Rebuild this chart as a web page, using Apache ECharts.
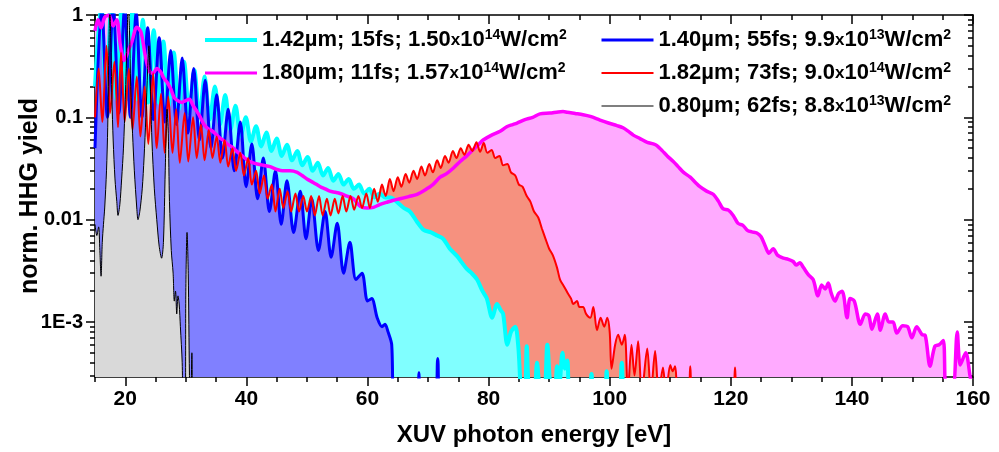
<!DOCTYPE html>
<html>
<head>
<meta charset="utf-8">
<script src="https://cdn.jsdelivr.net/npm/echarts@6/dist/echarts.min.js"></script>
<style>
  html, body { margin: 0; padding: 0; background: #fff; }
  #chart { width: 999px; height: 452px; }
</style>
</head>
<body>
<div id="chart"></div>
<script>
// tick values
const xMajor = [20, 40, 60, 80, 100, 120, 140, 160];
const xMinor = [15, 25, 30, 35, 45, 50, 55, 65, 70, 75, 85, 90, 95, 105, 110, 115, 125, 130, 135, 145, 150, 155];
const yMajor = [0.001, 0.01, 0.1, 1];
const yMajorText = ["1E-3", "0.01", "0.1", "1"];
const yMinor = [
  0.0003, 0.0004, 0.0005, 0.0006, 0.0007, 0.0008, 0.0009,
  0.002, 0.003, 0.004, 0.005, 0.006, 0.007, 0.008, 0.009,
  0.02, 0.03, 0.04, 0.05, 0.06, 0.07, 0.08, 0.09,
  0.2, 0.3, 0.4, 0.5, 0.6, 0.7, 0.8, 0.9
];

const names = {
  cyan: "1.42µm; 15fs; 1.50x10^14W/cm^2",
  magenta: "1.80µm; 11fs; 1.57x10^14W/cm^2",
  blue: "1.40µm; 55fs; 9.9x10^13W/cm^2",
  red: "1.82µm; 73fs; 9.0x10^14W/cm^2",
  black: "0.80µm; 62fs; 8.8x10^13W/cm^2"
};

// [photon energy eV, normalized yield]
const cyanData = [
  [15.0, 0.2], [16.0, 1.3], [16.85, 0.15], [17.7, 1.3], [18.55, 0.15], [19.4, 1.2], [20.3, 0.15], [21.2, 1.1],
  [22.05, 0.15], [22.9, 0.9], [23.8, 0.14], [24.7, 0.71], [25.5, 0.14], [26.3, 0.55], [27.15, 0.13], [28.0, 0.43],
  [28.85, 0.12], [29.7, 0.35], [30.55, 0.11], [31.4, 0.29], [32.25, 0.1], [33.1, 0.25], [33.95, 0.095], [34.8, 0.2],
  [35.65, 0.085], [36.5, 0.165], [37.35, 0.075], [38.2, 0.13], [39.05, 0.065], [39.9, 0.1], [40.75, 0.058], [41.6, 0.082],
  [42.45, 0.052], [43.3, 0.071], [44.15, 0.047], [45.0, 0.062], [45.85, 0.042], [46.7, 0.054], [47.55, 0.038], [48.4, 0.047],
  [49.25, 0.034], [50.1, 0.041], [50.95, 0.03], [51.8, 0.036], [52.65, 0.027], [53.5, 0.032], [54.35, 0.024], [55.2, 0.028],
  [56.05, 0.022], [56.9, 0.025], [57.75, 0.02], [58.6, 0.022], [59.45, 0.018], [60.3, 0.02], [61.15, 0.0165], [62.0, 0.018],
  [62.9, 0.0165], [63.8, 0.0165], [64.9, 0.0148], [66.0, 0.013], [67.0, 0.012], [68.2, 0.0095], [69.2, 0.008], [70.5, 0.0075],
  [71.5, 0.007], [72.5, 0.0065], [73.6, 0.0052], [74.8, 0.0044], [75.6, 0.0038], [76.4, 0.0033], [77.2, 0.003], [78.1, 0.0026],
  [79.0, 0.002], [79.7, 0.0017], [80.6, 0.0011], [81.4, 0.0015], [82.0, 0.0013], [82.4, 0.0012], [83.1, 0.0006], [83.7, 0.0008],
  [84.4, 0.0009], [84.9, 0.00058], [85.5, 0.0002], [86.0, 0.0002], [86.3, 0.00058], [86.8, 0.0002], [87.5, 0.0002], [88.0, 0.0004],
  [88.6, 0.0002], [89.2, 0.0002], [89.7, 0.0006], [90.4, 0.0002], [90.9, 0.0002], [91.3, 0.00037], [91.7, 0.00025], [92.2, 0.0005],
  [92.6, 0.00035], [93.0, 0.00042], [93.5, 0.0002], [96.6, 0.0002], [97.0, 0.00031], [97.4, 0.0002], [99.1, 0.0002], [99.5, 0.00033],
  [99.9, 0.0002], [101.5, 0.0002], [102.0, 0.0004], [102.5, 0.0002], [160, 0.0002]
];

const blueData = [
  [15.0, 0.05], [16.1, 1.3], [17.05, 0.1], [18.0, 1.3], [18.95, 0.11], [19.9, 1.2], [20.85, 0.1], [21.8, 1.05],
  [22.75, 0.1], [23.7, 0.75], [24.65, 0.095], [25.6, 0.6], [26.55, 0.09], [27.5, 0.45], [28.45, 0.085], [29.4, 0.38],
  [30.35, 0.07], [31.3, 0.3], [32.25, 0.06], [33.2, 0.23], [34.15, 0.05], [35.1, 0.166], [36.05, 0.04], [37.0, 0.12],
  [38.0, 0.03], [39.0, 0.09], [39.95, 0.021], [40.9, 0.055], [41.85, 0.016], [42.8, 0.04], [43.8, 0.012], [44.8, 0.03],
  [45.75, 0.009], [46.7, 0.024], [47.8, 0.0075], [48.9, 0.019], [49.85, 0.0065], [50.8, 0.016], [51.9, 0.005], [53.0, 0.012],
  [54.0, 0.0043], [55.0, 0.0092], [56.05, 0.003], [57.1, 0.006], [58.1, 0.0026], [59.1, 0.003], [60.0, 0.0016], [60.7, 0.0017],
  [61.6, 0.0011], [62.4, 0.0009], [62.9, 0.00095], [63.4, 0.0008], [64.0, 0.0006], [64.5, 0.0001], [68.2, 0.0001], [68.5, 0.00032],
  [68.8, 0.0001], [71.0, 0.0001], [71.6, 0.00044], [72.2, 0.0001], [160, 0.0001]
];

const magentaData = [
  [15.0, 0.7], [15.5, 0.9], [16.0, 0.75], [16.6, 0.95], [17.3, 1.0], [18.0, 0.78], [18.6, 0.9], [19.2, 0.5],
  [19.8, 0.36], [20.5, 0.45], [21.1, 0.55], [21.9, 0.76], [22.6, 0.68], [23.3, 0.4], [24.0, 0.28], [24.6, 0.27],
  [25.2, 0.3], [25.8, 0.28], [26.4, 0.24], [26.9, 0.22], [27.5, 0.19], [28.1, 0.155], [28.7, 0.145], [29.3, 0.14],
  [29.9, 0.145], [30.6, 0.15], [31.2, 0.13], [31.8, 0.115], [32.4, 0.1], [33.0, 0.085], [33.6, 0.078], [34.3, 0.074],
  [35.0, 0.068], [35.6, 0.063], [36.3, 0.059], [37.0, 0.054], [37.7, 0.051], [38.5, 0.046], [39.3, 0.042], [40.2, 0.038],
  [41.0, 0.036], [41.8, 0.035], [42.8, 0.034], [43.9, 0.033], [45.0, 0.031], [46.0, 0.03], [47.2, 0.03], [48.4, 0.029],
  [49.2, 0.027], [50.0, 0.025], [51.1, 0.023], [52.2, 0.021], [53.0, 0.02], [53.8, 0.019], [54.7, 0.0185], [55.5, 0.018],
  [56.6, 0.017], [57.7, 0.016], [58.8, 0.0135], [59.9, 0.013], [61.0, 0.0132], [62.0, 0.014], [63.2, 0.0148], [64.3, 0.0155],
  [65.4, 0.016], [66.8, 0.0168], [68.2, 0.0177], [69.5, 0.0195], [70.8, 0.022], [72.0, 0.026], [73.0, 0.028], [74.2, 0.032],
  [75.3, 0.037], [76.4, 0.042], [77.4, 0.048], [78.3, 0.054], [79.1, 0.06], [80.5, 0.067], [81.9, 0.073], [83.0, 0.081],
  [84.0, 0.085], [84.7, 0.088], [86.0, 0.095], [87.3, 0.1], [88.5, 0.108], [90.1, 0.11], [91.5, 0.113], [92.3, 0.114],
  [93.0, 0.112], [94.3, 0.109], [95.6, 0.106], [96.8, 0.102], [98.4, 0.094], [99.8, 0.088], [101.2, 0.083], [102.2, 0.079],
  [103.2, 0.072], [103.9, 0.067], [105.0, 0.062], [106.2, 0.057], [107.2, 0.055], [107.8, 0.053], [108.7, 0.047], [109.5, 0.042],
  [110.5, 0.037], [111.3, 0.033], [112.2, 0.029], [113.3, 0.026], [114.2, 0.023], [114.9, 0.021], [116.0, 0.019], [117.1, 0.0177],
  [118.0, 0.015], [118.7, 0.0128], [119.6, 0.0124], [120.4, 0.011], [121.2, 0.0092], [122.0, 0.0088], [122.8, 0.0078], [123.5, 0.0076],
  [124.3, 0.0074], [125.0, 0.0068], [125.7, 0.0055], [126.3, 0.0047], [127.0, 0.0052], [127.7, 0.0045], [128.7, 0.0042], [129.5, 0.0041],
  [130.3, 0.0039], [130.8, 0.0036], [131.4, 0.0038], [132.0, 0.0034], [132.8, 0.0029], [133.6, 0.0026], [134.4, 0.0018], [135.0, 0.0023],
  [135.6, 0.0021], [136.1, 0.0024], [136.6, 0.0019], [137.2, 0.0016], [137.8, 0.0019], [138.4, 0.002], [139.2, 0.0011], [139.7, 0.0017],
  [140.4, 0.0016], [141.4, 0.00095], [142.2, 0.0012], [142.8, 0.00115], [143.3, 0.00085], [144.2, 0.0012], [144.7, 0.00083], [145.5, 0.0012],
  [146.1, 0.001], [146.8, 0.001], [147.4, 0.00078], [148.4, 0.00092], [149.2, 0.0009], [149.9, 0.0007], [150.7, 0.0009], [151.6, 0.00075],
  [152.1, 0.00074], [152.9, 0.00037], [153.7, 0.00058], [154.4, 0.0006], [155.1, 0.00066], [155.6, 0.0002], [156.6, 0.0002], [157.4, 0.0008],
  [157.9, 0.00038], [158.8, 0.0005], [159.5, 0.0003], [160.0, 0.0002]
];

const redData = [
  [15.0, 0.1], [15.6, 0.3], [16.2, 0.09], [16.9, 0.5], [17.5, 0.11], [18.2, 0.35], [18.8, 0.08], [19.3, 0.43],
  [19.9, 0.09], [20.6, 0.3], [21.2, 0.075], [21.9, 0.25], [22.5, 0.065], [23.2, 0.2], [23.8, 0.055], [24.6, 0.27],
  [25.2, 0.05], [25.9, 0.17], [26.5, 0.045], [27.1, 0.16], [27.8, 0.045], [28.4, 0.12], [29.0, 0.036], [29.8, 0.11],
  [30.4, 0.037], [31.2, 0.1], [31.8, 0.04], [32.5, 0.085], [33.1, 0.038], [33.8, 0.075], [34.4, 0.04], [35.1, 0.065],
  [35.7, 0.036], [36.4, 0.06], [37.0, 0.033], [37.7, 0.05], [38.3, 0.03], [39.0, 0.045], [39.6, 0.027], [40.3, 0.04],
  [40.9, 0.022], [41.6, 0.03], [42.2, 0.018], [42.9, 0.027], [43.5, 0.016], [44.2, 0.022], [44.8, 0.012], [45.5, 0.02],
  [46.1, 0.013], [46.8, 0.019], [47.4, 0.012], [48.1, 0.018], [48.7, 0.012], [49.4, 0.017], [50.0, 0.012], [50.7, 0.017],
  [51.3, 0.011], [52.0, 0.017], [52.6, 0.011], [53.3, 0.016], [53.9, 0.011], [54.6, 0.016], [55.2, 0.0115], [55.9, 0.017],
  [56.5, 0.012], [57.2, 0.017], [57.8, 0.0125], [58.5, 0.017], [59.1, 0.013], [59.8, 0.018], [60.4, 0.013], [61.1, 0.02],
  [61.7, 0.015], [62.4, 0.022], [63.0, 0.017], [63.7, 0.025], [64.3, 0.019], [65.0, 0.026], [65.6, 0.021], [66.3, 0.028],
  [66.9, 0.023], [67.6, 0.03], [68.2, 0.025], [68.9, 0.033], [69.5, 0.027], [70.2, 0.035], [70.8, 0.029], [71.5, 0.038],
  [72.1, 0.032], [72.8, 0.042], [73.4, 0.036], [74.1, 0.047], [74.7, 0.04], [75.4, 0.05], [76.0, 0.043], [76.7, 0.054],
  [77.3, 0.047], [78.0, 0.057], [78.6, 0.046], [79.2, 0.056], [79.8, 0.045], [80.5, 0.048], [81.1, 0.04], [81.8, 0.042],
  [82.4, 0.034], [83.1, 0.035], [83.7, 0.029], [84.4, 0.027], [85.0, 0.022], [85.6, 0.021], [86.3, 0.017], [86.9, 0.015],
  [87.5, 0.012], [88.2, 0.0105], [88.8, 0.0082], [89.4, 0.0065], [90.0, 0.0052], [90.6, 0.0045], [91.3, 0.0034], [91.8, 0.0026],
  [92.5, 0.0022], [93.1, 0.0019], [93.6, 0.0017], [94.0, 0.0015], [94.6, 0.0016], [95.0, 0.0014], [95.6, 0.0014], [96.1, 0.0012],
  [96.8, 0.0011], [97.3, 0.0014], [97.9, 0.00083], [98.5, 0.0011], [99.1, 0.0009], [99.6, 0.0011], [100.0, 0.0008], [100.3, 0.00035],
  [100.9, 0.0006], [101.4, 0.00075], [102.0, 0.0006], [102.5, 0.00075], [103.0, 0.0002], [103.6, 0.0006], [104.1, 0.0003], [104.7, 0.00065],
  [105.3, 0.0002], [106.2, 0.00055], [106.8, 0.0002], [107.5, 0.00052], [108.1, 0.0002], [108.8, 0.00036], [109.3, 0.0002], [110.0, 0.00038],
  [110.4, 0.00033], [110.8, 0.00037], [111.4, 0.0002], [113.0, 0.0002], [113.3, 0.00037], [113.8, 0.0002], [120.3, 0.0002], [120.7, 0.00036],
  [121.1, 0.0002], [160, 0.0002]
];

const blackData = [
  [15.0, 0.009], [15.3, 0.007], [15.6, 0.0085], [15.8, 0.005], [16.0, 0.0028], [16.2, 0.006], [16.4, 0.009], [16.6, 0.013],
  [16.9, 0.03], [17.1, 0.08], [17.3, 0.5], [17.45, 1.2], [17.6, 0.6], [17.8, 0.15], [18.0, 0.06], [18.3, 0.025],
  [18.6, 0.015], [18.8, 0.011], [19.1, 0.014], [19.4, 0.025], [19.7, 0.05], [20.0, 0.15], [20.3, 0.6], [20.5, 1.3],
  [20.7, 0.7], [20.9, 0.2], [21.2, 0.07], [21.5, 0.03], [21.9, 0.013], [22.1, 0.01], [22.4, 0.012], [22.8, 0.02],
  [23.1, 0.04], [23.4, 0.1], [23.7, 0.3], [23.9, 0.5], [24.1, 0.25], [24.4, 0.06], [24.8, 0.02], [25.2, 0.01],
  [25.6, 0.0055], [26.0, 0.0042], [26.3, 0.006], [26.6, 0.03], [26.9, 0.12], [27.1, 0.07], [27.3, 0.015], [27.6, 0.005],
  [27.9, 0.003], [28.1, 0.0016], [28.3, 0.002], [28.5, 0.0012], [28.7, 0.0018], [28.9, 0.0015], [29.1, 0.0009], [29.4, 0.0004],
  [29.6, 0.0001], [29.9, 0.0001], [30.0, 0.002], [30.2, 0.0075], [30.4, 0.003], [30.6, 0.0003], [30.8, 0.0001], [31.0, 0.0005],
  [31.2, 0.0001], [31.5, 0.0001]
];

const FONT = "'Liberation Sans', Arial, sans-serif";
const yMin = 0.00029;

const legendText = {
  fontFamily: FONT,
  fontWeight: "bold",
  fontSize: 22,
  color: "#000",
  rich: {
    a: { fontFamily: FONT, fontWeight: "bold", fontSize: 22, lineHeight: 24, color: "#000" },
    x: { fontFamily: FONT, fontWeight: "bold", fontSize: 17, lineHeight: 24, color: "#000" },
    s: { fontFamily: FONT, fontWeight: "bold", fontSize: 14, lineHeight: 12, verticalAlign: "top", color: "#000" }
  }
};

const legendFormatter = (name) => {
  const m = name.match(/^(.*)x10\^(\d+)W\/cm\^2$/);
  return `{a|${m[1]}}{x|x}{a|10}{s|${m[2]}}{a|W/cm}{s|2}`;
};

const legendItem = (name, color, width) => ({
  name,
  lineStyle: { width, color },
  itemStyle: { opacity: 0, color: "rgba(0,0,0,0)", borderWidth: 0 }
});

const fillSeries = (data, color) => ({
  type: "line",
  data,
  symbol: "none",
  smooth: 0.3,
  silent: true,
  lineStyle: { width: 0 },
  areaStyle: { color, opacity: 1, origin: "start" }
});

const lineSeries = (name, data, color, width, smooth) => ({
  type: "line",
  name,
  data,
  symbol: "none",
  showSymbol: false,
  smooth,
  silent: true,
  itemStyle: { color },
  lineStyle: { color, width }
});

const tickAxis = (type, position, values, length, inside, showLine) => ({
  type,
  position,
  min: type === "log" ? yMin : 15,
  max: type === "log" ? 1 : 160,
  logBase: 10,
  axisLine: { show: showLine, onZero: false, lineStyle: { color: "#000", width: 1.5 } },
  axisTick: { show: true, inside, length, customValues: values, lineStyle: { color: "#000", width: 1.5 } },
  axisLabel: { show: false },
  splitLine: { show: false },
  minorTick: { show: false }
});

const legendBase = {
  orient: "vertical",
  top: 28,
  padding: 0,
  itemWidth: 52,
  itemHeight: 14,
  itemGap: 10,
  selectedMode: false,
  textStyle: legendText,
  formatter: legendFormatter
};

const chart = echarts.init(document.getElementById("chart"));
chart.setOption({
  animation: false,
  backgroundColor: "#fff",
  grid: { left: 95, right: 26, top: 15, bottom: 74 },
  legend: [
    Object.assign({}, legendBase, {
      left: 203,
      data: [
        legendItem(names.cyan, "#00ffff", 4),
        legendItem(names.magenta, "#ff00ff", 3)
      ]
    }),
    Object.assign({}, legendBase, {
      left: 600,
      data: [
        legendItem(names.blue, "#0000ff", 3),
        legendItem(names.red, "#ff0000", 2),
        legendItem(names.black, "#555555", 1.5)
      ]
    })
  ],
  xAxis: [
    {
      type: "value",
      position: "bottom",
      min: 15,
      max: 160,
      name: "XUV photon energy [eV]",
      nameLocation: "middle",
      nameGap: 46,
      nameMoveOverlap: false,
      nameTextStyle: { fontFamily: FONT, fontWeight: "bold", fontSize: 24, color: "#000" },
      axisLine: { show: true, onZero: false, lineStyle: { color: "#000", width: 1.5 } },
      axisTick: { show: true, length: 9, customValues: xMajor, lineStyle: { color: "#000", width: 1.5 } },
      axisLabel: {
        customValues: xMajor,
        margin: 12,
        fontFamily: FONT,
        fontWeight: "bold",
        fontSize: 21,
        color: "#000"
      },
      splitLine: { show: false }
    },
    tickAxis("value", "bottom", xMinor, 5, false, false),
    tickAxis("value", "top", xMajor, 9, true, true),
    tickAxis("value", "top", xMinor, 5, true, false)
  ],
  yAxis: [
    {
      type: "log",
      logBase: 10,
      position: "left",
      min: yMin,
      max: 1,
      name: "norm. HHG yield",
      nameLocation: "middle",
      nameGap: 52,
      nameMoveOverlap: false,
      nameTextStyle: { fontFamily: FONT, fontWeight: "bold", fontSize: 25, color: "#000" },
      axisLine: { show: true, onZero: false, lineStyle: { color: "#000", width: 1.5 } },
      axisTick: { show: true, length: 9, customValues: yMajor, lineStyle: { color: "#000", width: 1.5 } },
      axisLabel: {
        customValues: yMajor,
        margin: 12,
        fontFamily: FONT,
        fontWeight: "bold",
        fontSize: 20,
        color: "#000",
        formatter: (v) => {
          const i = yMajor.findIndex((t) => Math.abs(Math.log10(t) - Math.log10(v)) < 1e-6);
          return i >= 0 ? yMajorText[i] : "";
        }
      },
      splitLine: { show: false },
      minorTick: { show: false }
    },
    tickAxis("log", "left", yMinor, 5, false, false),
    tickAxis("log", "right", yMajor, 9, true, true),
    tickAxis("log", "right", yMinor, 5, true, false)
  ],
  series: [
    fillSeries(magentaData, "#ffaaff"),
    fillSeries(redData, "#f6917f"),
    fillSeries(cyanData, "#80ffff"),
    fillSeries(blueData, "#8080ff"),
    fillSeries(blackData, "#d9d9d9"),
    lineSeries(names.cyan, cyanData, "#00ffff", 4, 0.3),
    lineSeries(names.blue, blueData, "#0000ff", 3, 0.3),
    lineSeries(names.magenta, magentaData, "#ff00ff", 3.5, 0.3),
    lineSeries(names.red, redData, "#ff0000", 2, 0.3),
    lineSeries(names.black, blackData, "#000000", 1, 0.3)
  ]
});
</script>
</body>
</html>
